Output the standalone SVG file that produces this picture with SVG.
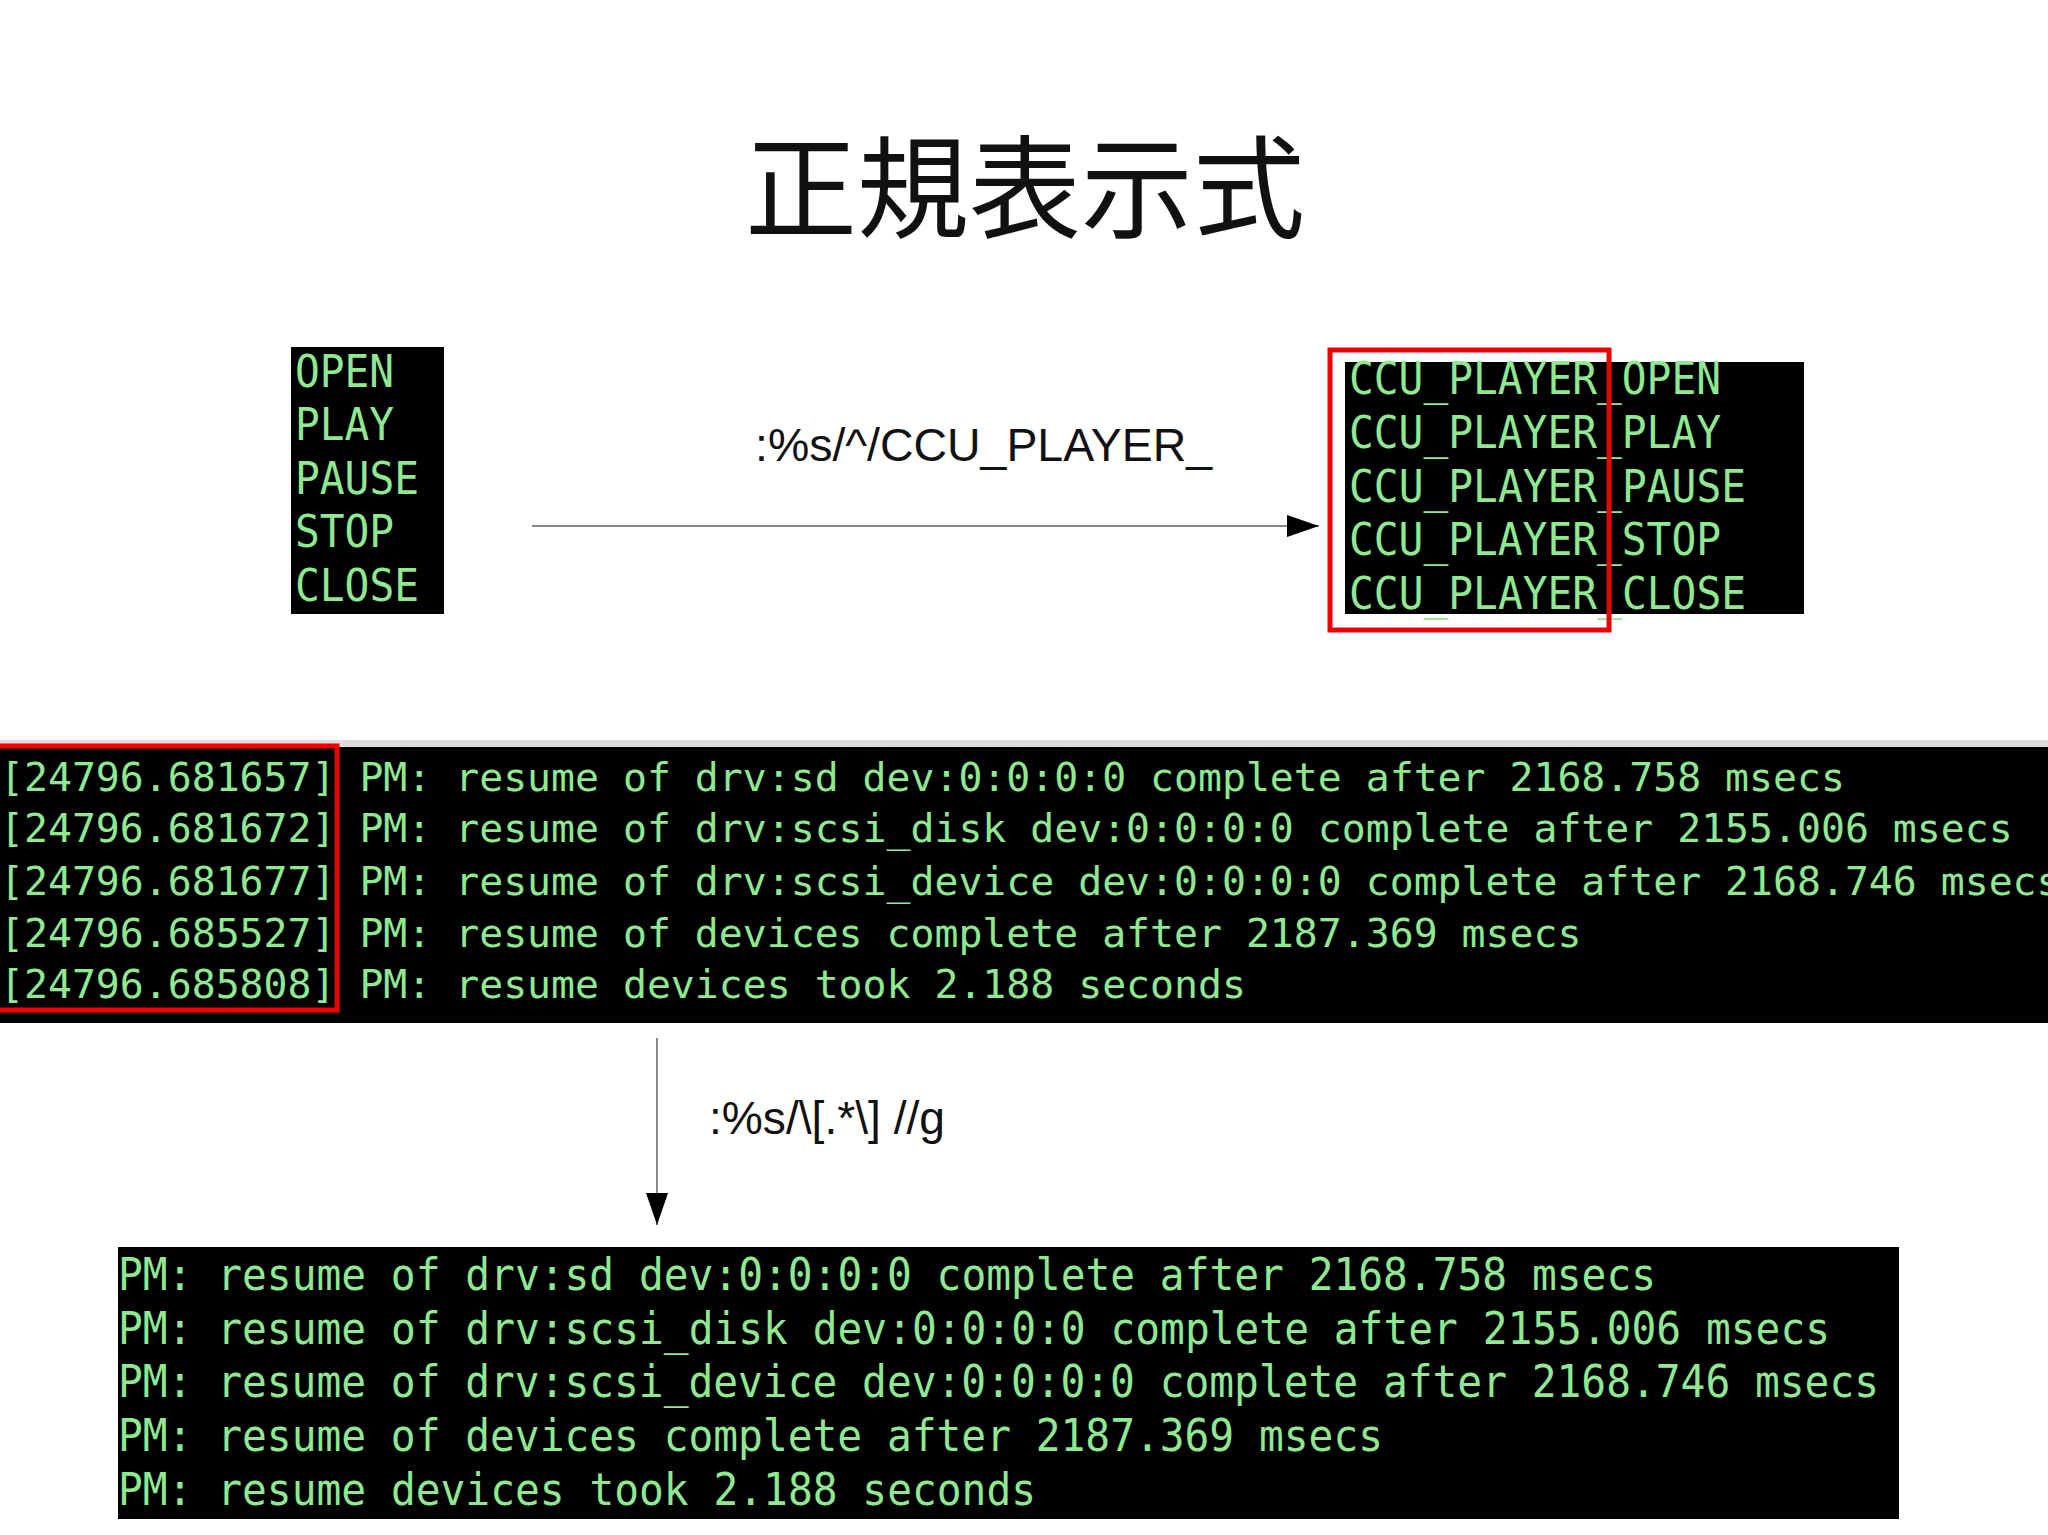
<svg xmlns="http://www.w3.org/2000/svg" width="2048" height="1535" viewBox="0 0 2048 1535">
<style>
.t{font-family:"DejaVu Sans Mono","Liberation Mono",monospace;font-size:44px;fill:#90e890}
.m{font-family:"DejaVu Sans Mono","Liberation Mono",monospace;font-size:39.8px;fill:#90e890}
.lbl{font-family:"Liberation Sans",Arial,sans-serif;font-size:47px;fill:#111}
.box{fill:#000}
.red{fill:none;stroke:#ee0000;stroke-width:5}
</style>
<defs>
<marker id="ah2" markerWidth="32" markerHeight="22" refX="32" refY="11" orient="auto" markerUnits="userSpaceOnUse"><path d="M0,0 L32,11 L0,22 z" fill="#000"/></marker>
</defs>
<rect width="2048" height="1535" fill="#fff"/>
<text x="1025" y="230" text-anchor="middle" font-family="'Noto Sans CJK JP','Noto Sans CJK TC',sans-serif" font-size="112" fill="#111">正規表示式</text>
<g id="left">
<rect class="box" x="291" y="347" width="153" height="267"/>
<text class="t" x="295" y="387" textLength="99" lengthAdjust="spacingAndGlyphs">OPEN</text>
<text class="t" x="295" y="440" textLength="99" lengthAdjust="spacingAndGlyphs">PLAY</text>
<text class="t" x="295" y="494" textLength="124" lengthAdjust="spacingAndGlyphs">PAUSE</text>
<text class="t" x="295" y="547" textLength="99" lengthAdjust="spacingAndGlyphs">STOP</text>
<text class="t" x="295" y="601" textLength="124" lengthAdjust="spacingAndGlyphs">CLOSE</text>
</g>
<g id="right">
<rect class="box" x="1345" y="362" width="459" height="252"/>
<text class="t" x="1349" y="394" textLength="372" lengthAdjust="spacingAndGlyphs">CCU_PLAYER_OPEN</text>
<text class="t" x="1349" y="448" textLength="372" lengthAdjust="spacingAndGlyphs">CCU_PLAYER_PLAY</text>
<text class="t" x="1349" y="502" textLength="397" lengthAdjust="spacingAndGlyphs">CCU_PLAYER_PAUSE</text>
<text class="t" x="1349" y="555" textLength="372" lengthAdjust="spacingAndGlyphs">CCU_PLAYER_STOP</text>
<text class="t" x="1349" y="609" textLength="397" lengthAdjust="spacingAndGlyphs">CCU_PLAYER_CLOSE</text>
<rect class="red" x="1330" y="350" width="279" height="280"/>
</g>
<g id="middle">
<rect x="0" y="740" width="2048" height="7" fill="#ddd"/>
<rect class="box" x="0" y="747" width="2048" height="276"/>
<text class="m" x="0" y="791">[24796.681657] PM: resume of drv:sd dev:0:0:0:0 complete after 2168.758 msecs</text>
<text class="m" x="0" y="842">[24796.681672] PM: resume of drv:scsi_disk dev:0:0:0:0 complete after 2155.006 msecs</text>
<text class="m" x="0" y="895">[24796.681677] PM: resume of drv:scsi_device dev:0:0:0:0 complete after 2168.746 msecs</text>
<text class="m" x="0" y="947">[24796.685527] PM: resume of devices complete after 2187.369 msecs</text>
<text class="m" x="0" y="998">[24796.685808] PM: resume devices took 2.188 seconds</text>
<rect class="red" x="-3" y="746" width="340" height="264"/>
</g>
<g id="bottom">
<rect class="box" x="118" y="1247" width="1781" height="272"/>
<text class="t" x="118" y="1290" textLength="1538" lengthAdjust="spacingAndGlyphs">PM: resume of drv:sd dev:0:0:0:0 complete after 2168.758 msecs</text>
<text class="t" x="118" y="1344" textLength="1712" lengthAdjust="spacingAndGlyphs">PM: resume of drv:scsi_disk dev:0:0:0:0 complete after 2155.006 msecs</text>
<text class="t" x="118" y="1397" textLength="1761" lengthAdjust="spacingAndGlyphs">PM: resume of drv:scsi_device dev:0:0:0:0 complete after 2168.746 msecs</text>
<text class="t" x="118" y="1451" textLength="1265" lengthAdjust="spacingAndGlyphs">PM: resume of devices complete after 2187.369 msecs</text>
<text class="t" x="118" y="1505" textLength="918" lengthAdjust="spacingAndGlyphs">PM: resume devices took 2.188 seconds</text>
</g>
<g id="connectors">
<line x1="532" y1="526" x2="1319" y2="526" stroke="#888" stroke-width="2" marker-end="url(#ah2)"/>
<text class="lbl" x="755" y="461" textLength="457" lengthAdjust="spacingAndGlyphs">:%s/^/CCU_PLAYER_</text>
<line x1="657" y1="1038" x2="657" y2="1225" stroke="#888" stroke-width="2" marker-end="url(#ah2)"/>
<text class="lbl" x="709" y="1134" textLength="236" lengthAdjust="spacingAndGlyphs">:%s/\[.*\] //g</text>
</g>
</svg>
